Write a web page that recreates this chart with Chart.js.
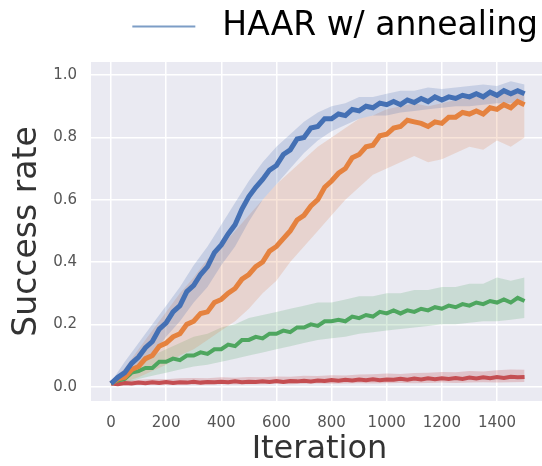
<!DOCTYPE html>
<html>
<head>
<meta charset="utf-8">
<script src="https://cdn.jsdelivr.net/npm/chart.js@4.4.1/dist/chart.umd.min.js"></script>
<style>
  html, body { margin: 0; padding: 0; background: #fff; overflow: hidden; }
  .wrap { width: 560px; height: 466px; }
</style>
</head>
<body>
<div class="wrap"><canvas id="c" width="560" height="466"></canvas></div>
<script>
// Success rate vs iteration, four runs (mean line + light spread band).
const iters = [0,25,50,75,100,125,150,175,200,225,250,275,300,325,350,375,400,425,450,475,
  500,525,550,575,600,625,650,675,700,725,750,775,800,825,850,875,900,925,950,975,
  1000,1025,1050,1075,1100,1125,1150,1175,1200,1225,1250,1275,1300,1325,1350,1375,1400,1425,1450,1475,1500];
const bandIters = [0,50,100,150,200,250,300,350,400,450,500,550,600,650,700,750,
  800,850,900,950,1000,1050,1100,1150,1200,1250,1300,1350,1400,1450,1500];

const blueMean = [0.01,0.03,0.045,0.075,0.095,0.125,0.145,0.185,0.205,0.24,
  0.26,0.305,0.325,0.36,0.385,0.43,0.455,0.49,0.52,0.57,
  0.61,0.64,0.665,0.695,0.71,0.745,0.76,0.795,0.80,0.83,
  0.835,0.86,0.86,0.875,0.87,0.89,0.885,0.90,0.895,0.91,
  0.905,0.915,0.905,0.92,0.912,0.925,0.915,0.93,0.92,0.93,
  0.925,0.935,0.93,0.94,0.93,0.945,0.935,0.95,0.94,0.95,0.94];
const blueHi = [0.015,0.08,0.14,0.2,0.26,0.32,0.39,0.45,0.52,0.59,
  0.66,0.72,0.77,0.81,0.85,0.88,0.9,0.91,0.93,0.93,
  0.94,0.95,0.95,0.96,0.955,0.96,0.965,0.97,0.965,0.98,0.97];
const blueLo = [0.005,0.02,0.06,0.1,0.16,0.21,0.27,0.32,0.39,0.45,
  0.53,0.6,0.65,0.7,0.75,0.79,0.82,0.84,0.86,0.87,
  0.87,0.88,0.885,0.89,0.895,0.9,0.9,0.905,0.91,0.91,0.915];

const orangeMean = [0.01,0.025,0.03,0.055,0.065,0.09,0.10,0.13,0.14,0.16,
  0.17,0.20,0.21,0.235,0.24,0.27,0.28,0.30,0.315,0.345,
  0.36,0.385,0.40,0.435,0.45,0.475,0.50,0.535,0.55,0.58,
  0.60,0.64,0.66,0.685,0.70,0.735,0.745,0.77,0.775,0.805,
  0.81,0.83,0.835,0.855,0.85,0.845,0.835,0.85,0.845,0.865,
  0.865,0.88,0.875,0.885,0.875,0.895,0.89,0.905,0.895,0.915,0.905];
const orangeHi = [0.015,0.06,0.12,0.18,0.24,0.3,0.35,0.41,0.45,0.5,
  0.55,0.6,0.65,0.69,0.73,0.77,0.8,0.83,0.86,0.87,
  0.89,0.9,0.91,0.9,0.91,0.92,0.93,0.93,0.94,0.95,0.94];
const orangeLo = [0.005,0.015,0.03,0.05,0.07,0.1,0.12,0.15,0.18,0.21,
  0.25,0.3,0.34,0.4,0.45,0.5,0.55,0.6,0.64,0.68,
  0.7,0.72,0.74,0.72,0.73,0.75,0.77,0.76,0.79,0.77,0.8];

const greenMean = [0.01,0.02,0.025,0.045,0.05,0.06,0.06,0.08,0.08,0.09,
  0.085,0.10,0.10,0.11,0.105,0.12,0.12,0.135,0.13,0.15,
  0.15,0.16,0.155,0.17,0.17,0.18,0.175,0.19,0.19,0.20,
  0.195,0.21,0.21,0.215,0.21,0.225,0.22,0.23,0.225,0.24,
  0.235,0.245,0.235,0.245,0.24,0.25,0.245,0.255,0.25,0.26,
  0.255,0.265,0.26,0.27,0.265,0.275,0.27,0.28,0.27,0.285,0.275];
const greenHi = [0.015,0.04,0.07,0.1,0.12,0.14,0.16,0.17,0.19,0.2,
  0.22,0.23,0.24,0.25,0.26,0.27,0.27,0.28,0.29,0.29,
  0.3,0.3,0.31,0.31,0.32,0.32,0.33,0.33,0.35,0.34,0.35];
const greenLo = [0.005,0.01,0.025,0.035,0.045,0.055,0.065,0.07,0.08,0.09,
  0.1,0.11,0.12,0.13,0.14,0.15,0.155,0.16,0.17,0.175,
  0.18,0.185,0.19,0.195,0.2,0.2,0.205,0.21,0.21,0.215,0.22];

const redMean = [0.01,0.008,0.012,0.01,0.013,0.011,0.014,0.012,0.015,0.012,
  0.014,0.013,0.016,0.013,0.015,0.014,0.016,0.014,0.017,0.014,
  0.016,0.015,0.017,0.015,0.018,0.015,0.018,0.017,0.019,0.017,
  0.02,0.018,0.021,0.019,0.022,0.02,0.023,0.021,0.024,0.021,
  0.023,0.022,0.025,0.022,0.026,0.023,0.027,0.024,0.027,0.025,
  0.028,0.025,0.029,0.026,0.03,0.027,0.031,0.028,0.032,0.03,0.031];
const redHi = [0.015,0.02,0.022,0.025,0.024,0.027,0.028,0.027,0.03,0.029,
  0.031,0.03,0.033,0.032,0.035,0.034,0.037,0.036,0.039,0.04,
  0.042,0.041,0.044,0.045,0.047,0.046,0.05,0.049,0.053,0.055,0.054];
const redLo = [0.005,0.004,0.005,0.006,0.006,0.007,0.006,0.007,0.008,0.007,
  0.008,0.008,0.009,0.008,0.009,0.01,0.009,0.01,0.011,0.01,
  0.011,0.012,0.011,0.012,0.013,0.012,0.013,0.014,0.013,0.014,0.015];

const xTicks = [0, 200, 400, 600, 800, 1000, 1200, 1400];
const yTicks = [0, 0.2, 0.4, 0.6, 0.8, 1.0];
const legendLabel = "HAAR w/ annealing";

// plot runs past the right edge of the picture (the original is cropped)
const X_MIN = -72.5, X_MAX = 1585;
const Y_MIN = -0.046, Y_MAX = 1.042;

const series = [
  { mean: blueMean,   hi: blueHi,   lo: blueLo,   line: "#4470b4", band: "rgba(76,114,176,0.22)",  width: 5 },
  { mean: orangeMean, hi: orangeHi, lo: orangeLo, line: "#e5823f", band: "rgba(221,132,82,0.22)",  width: 5 },
  { mean: greenMean,  hi: greenHi,  lo: greenLo,  line: "#4ea65f", band: "rgba(85,168,104,0.22)",  width: 4 },
  { mean: redMean,    hi: redHi,    lo: redLo,    line: "#c44e52", band: "rgba(196,78,82,0.25)",   width: 4 },
];

const pts = (xs, ys) => xs.map((x, i) => ({ x, y: ys[i] }));

const datasets = [];
series.forEach((s, k) => {
  const hiIdx = datasets.length;
  datasets.push({ data: pts(bandIters, s.hi), borderColor: "transparent", borderWidth: 0,
    pointRadius: 0, fill: false, order: 10 + k });
  datasets.push({ data: pts(bandIters, s.lo), borderColor: "transparent", borderWidth: 0,
    pointRadius: 0, fill: { target: hiIdx, above: s.band, below: s.band }, backgroundColor: s.band, order: 10 + k });
  datasets.push({ data: pts(iters, s.mean), borderColor: s.line, borderWidth: s.width,
    pointRadius: 0, fill: false, order: k, borderJoinStyle: "miter" });
});

const plotBg = {
  id: "plotBg",
  beforeDraw(chart) {
    const { ctx, chartArea: a } = chart;
    ctx.save();
    ctx.fillStyle = "#eaeaf2";
    ctx.fillRect(a.left, a.top, a.right - a.left, a.bottom - a.top);
    ctx.restore();
  },
};

Chart.defaults.font.family = "'DejaVu Sans', sans-serif";

new Chart(document.getElementById("c"), {
  type: "line",
  data: { datasets },
  plugins: [plotBg],
  options: {
    responsive: false,
    animation: false,
    layout: { padding: { top: 0, right: 12, left: 0, bottom: 0 } },
    plugins: {
      tooltip: { enabled: false },
      legend: {
        position: "top",
        align: "end",
        onClick: null,
        labels: {
          boxWidth: 63,
          boxHeight: 2,
          padding: 10,
          color: "#262626",
          font: { size: 33 },
          generateLabels: () => [{
            text: " " + legendLabel,
            fillStyle: "#7d9dc6",
            strokeStyle: "#7d9dc6",
            lineWidth: 0,
            hidden: false,
          }],
        },
      },
      // empty spacer between the legend and the plot
      title: { display: true, text: "", weight: 500, padding: 0, font: { size: 9, lineHeight: 1 } },
    },
    scales: {
      x: {
        type: "linear",
        min: X_MIN,
        max: X_MAX,
        afterBuildTicks: (s) => { s.ticks = xTicks.map((v) => ({ value: v })); },
        afterFit: (s) => { s.height = 65; },
        grid: { color: "#ffffff", lineWidth: 1.5, drawTicks: false },
        border: { display: false },
        ticks: { padding: 13, color: "#555", font: { size: 15 }, maxRotation: 0, autoSkip: false,
          callback: (v) => String(v) },
        title: { display: true, text: "Iteration", color: "#333", font: { size: 32, lineHeight: 1 },
          padding: { top: 0, bottom: 0 } },
      },
      y: {
        min: Y_MIN,
        max: Y_MAX,
        afterBuildTicks: (s) => { s.ticks = yTicks.map((v) => ({ value: v })); },
        afterFit: (s) => { s.width = 91; },
        grid: { color: "#ffffff", lineWidth: 1.5, drawTicks: false },
        border: { display: false },
        ticks: { padding: 14, color: "#555", font: { size: 15 }, callback: (v) => v.toFixed(1) },
        title: { display: true, text: "Success rate", color: "#333", font: { size: 33, lineHeight: 1 },
          padding: { top: 11, bottom: 0 } },
      },
    },
  },
});
</script>
</body>
</html>
